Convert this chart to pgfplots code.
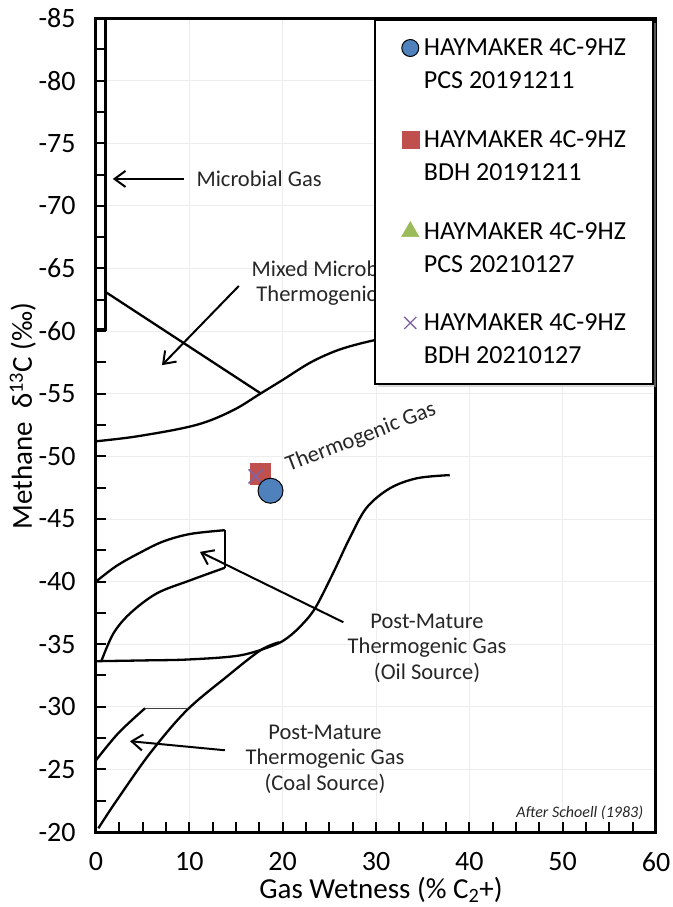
\documentclass[border=0pt]{standalone}
\usepackage{pgfplots}
\pgfplotsset{compat=1.18}
\usepackage{fontspec}
\setmainfont{Carlito}
\usetikzlibrary{shadows,arrows.meta}
\definecolor{sblue}{HTML}{4F81BD}
\definecolor{sred}{HTML}{C0504D}
\definecolor{sgreen}{HTML}{9BBB59}
\definecolor{spurple}{HTML}{8064A2}
\pgfplotsset{
  lgimg/.style={legend image code/.code={\draw[##1,yshift=16.5pt] plot coordinates {(0pt,0pt)};}},
  curve/.style={black, line width=2.3pt, smooth, tension=0.55, no marks},
}
\tikzset{
  ann/.style={font=\fontsize{22.5}{25.5}\selectfont, text=black!85, align=center},
  arr/.style={black, line width=2pt, -{Straight Barb[length=11pt,width=16pt,line width=2pt]}},
}
\begin{document}
\begin{tikzpicture}
\begin{axis}[
  scale only axis, width=560pt, height=814pt,
  xmin=0, xmax=60, ymin=-85, ymax=-20, y dir=reverse,
  xtick={0,10,...,60}, ytick={-85,-80,...,-20},
  minor x tick num=3, minor y tick num=1,
  tick align=inside, xtick pos=bottom, ytick pos=left,
  major tick length=10pt, minor tick length=10pt,
  every tick/.style={black, line width=2pt},
  axis line style={line width=3pt},
  grid=major, major grid style={gray!14, line width=0.8pt},
  tick label style={font=\fontsize{28}{30}\selectfont},
  /pgf/number format/assume math mode=true,
  yticklabel style={xshift=-17pt},
  xticklabel style={yshift=-17pt},
  xlabel={Gas Wetness (\% C\textsubscript{2}+)},
  ylabel={Methane\ \ δ\textsuperscript{13}C (‰)},
  every axis x label/.style={at={(axis description cs:0.5,0)}, anchor=base, yshift=-66pt, xshift=5pt, font=\fontsize{29}{32}\selectfont},
  every axis y label/.style={at={(axis description cs:0,0.511)}, xshift=-64pt, rotate=90, anchor=base, font=\fontsize{29}{32}\selectfont},
  legend cell align=left,
  legend style={at={(axis description cs:0.9964,0.999)}, anchor=north east,
    draw=black, line width=2pt, fill=white,
    inner xsep=27pt, inner ysep=19pt,
    font=\fontsize{26}{33}\selectfont,
    cells={anchor=west, align=left},
    nodes={inner sep=0pt},
    row sep=40pt, column sep=5pt,
    drop shadow={shadow xshift=3pt, shadow yshift=-3pt, fill=black!30}},
]
% legend images (in legend order)
\addlegendimage{only marks, mark=*, mark size=8.5pt, mark options={fill=sblue, draw=black, line width=1pt}, lgimg}
\addlegendentry{HAYMAKER 4C-9HZ\\PCS 20191211}
\addlegendimage{only marks, mark=square*, mark size=8.5pt, mark options={fill=sred, draw=sred, line width=0.5pt}, lgimg}
\addlegendentry{HAYMAKER 4C-9HZ\\BDH 20191211}
\addlegendimage{only marks, mark=triangle*, mark size=10pt, mark options={fill=sgreen, draw=sgreen, line width=0.5pt}, lgimg}
\addlegendentry{HAYMAKER 4C-9HZ\\PCS 20210127}
\addlegendimage{only marks, mark=x, mark size=8.5pt, mark options={draw=spurple, line width=1.3pt}, lgimg}
\addlegendentry{HAYMAKER 4C-9HZ\\BDH 20210127}

% Microbial gas box
\addplot[black, line width=3pt, no marks, forget plot] coordinates {(1.07,-85) (1.07,-60.1) (0,-60.1)};
% upper thermogenic boundary
\addplot[curve, forget plot] coordinates {(0,-51.2) (4,-51.55) (9,-52.2) (12,-52.8) (15,-53.8) (17.6,-55.0) (20,-56.1) (23,-57.5) (26,-58.5) (29.4,-59.2) (33,-59.7) (37,-59.9)};
% mixed boundary line
\addplot[black, line width=2.3pt, no marks, forget plot] coordinates {(1.07,-63.1) (17.7,-55.0)};
% oil source region
\addplot[curve, forget plot] coordinates {(0,-40.0) (2.2,-41.25) (4.7,-42.3) (7.2,-43.2) (10.1,-43.8) (13.8,-44.1)};
\addplot[black, line width=2.3pt, no marks, forget plot] coordinates {(13.8,-44.1) (13.8,-41.1)};
\addplot[curve, forget plot] coordinates {(13.8,-41.1) (10.1,-40.1) (6.5,-39.05) (3.64,-37.45) (1.86,-35.85) (0.6,-33.7)};
% horizontal + S curve (lower thermogenic boundary)
\addplot[curve, forget plot] coordinates {(0,-33.64) (5,-33.7) (10,-33.78) (15.4,-34.1) (19,-34.9) (20.5,-35.5) (22,-36.5) (23.5,-37.9) (25.4,-40.67) (27.2,-43.5) (29,-45.9) (31.5,-47.45) (34.4,-48.25) (37.9,-48.5)};
% coal source curve
\addplot[curve, forget plot] coordinates {(0.25,-20.3) (2.2,-22.5) (5.8,-26.3) (9.7,-29.7) (14,-32.4) (17.6,-34.5) (19.6,-35.15)};
\addplot[curve, forget plot] coordinates {(0,-25.73) (2.4,-27.9) (5.25,-29.88)};
\addplot[black!75, line width=1.2pt, no marks, forget plot] coordinates {(5.25,-29.88) (9.9,-29.88)};

% data points (draw order: triangle, square, x, circle)
\addplot[only marks, mark=triangle*, mark size=11pt, mark options={fill=sgreen, draw=sgreen}, forget plot] coordinates {(17.6,-48.6)};
\addplot[only marks, mark=square*, mark size=10.3pt, mark options={fill=sred, draw=sred, line width=0.5pt}, forget plot] coordinates {(17.6,-48.6)};
\addplot[only marks, mark=x, mark size=10pt, mark options={draw=spurple, line width=1.5pt}, forget plot] coordinates {(17.1,-48.4)};
\addplot[only marks, mark=*, mark size=12.5pt, mark options={fill=sblue, draw=black, line width=1pt}, forget plot] coordinates {(18.7,-47.25)};

% annotations
\node[ann, anchor=west] at (axis cs:10.4,-72.18) {Microbial Gas};
\draw[arr] (axis cs:9.4,-72.15) -- (axis cs:1.8,-72.15);
\node[ann, anchor=west] at (axis cs:16.3,-63.83) {Mixed Microbial \&\\Thermogenic Gas};
\draw[arr] (axis cs:15.3,-63.6) -- (axis cs:7.07,-57.28);
\node[ann, rotate=21] at (axis cs:28.4,-51.5) {Thermogenic Gas};
\node[ann] at (axis cs:35.47,-34.68) {Post-Mature\\Thermogenic Gas\\(Oil Source)};
\draw[arr] (axis cs:26.5,-36.75) -- (axis cs:11.14,-42.37);
\node[ann] at (axis cs:24.54,-25.81) {Post-Mature\\Thermogenic Gas\\(Coal Source)};
\draw[arr] (axis cs:13.8,-26.53) -- (axis cs:3.64,-27.25);
\node[anchor=east, font=\fontsize{16}{18}\selectfont\itshape, text=black!85] at (axis cs:59.0,-21.5) {After Schoell (1983)};
\end{axis}
\pgfresetboundingbox
\useasboundingbox (-96pt,-75pt) rectangle (576pt,832pt);
\end{tikzpicture}
\end{document}
